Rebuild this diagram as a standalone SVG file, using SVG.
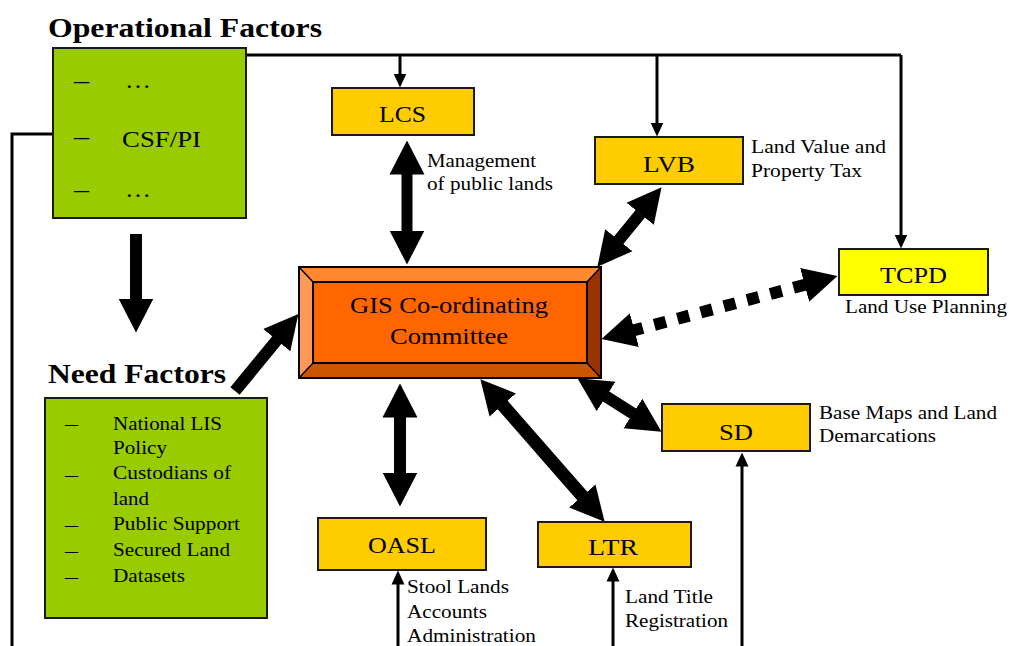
<svg xmlns="http://www.w3.org/2000/svg" width="1009" height="646" viewBox="0 0 1009 646">
<style>
text{font-family:"Liberation Serif","Times New Roman",serif;fill:#000}
.title{font-size:28px;font-weight:bold}
.bl{font-size:24px}
.lb{font-size:19px}
.it{font-size:19px}
.agency{fill:#FFCC00;stroke:#1a1a1a;stroke-width:2}
.green{fill:#99CC00;stroke:#1a1a1a;stroke-width:2}
.thin{fill:none;stroke:#000;stroke-width:3}
.thick{fill:none;stroke:#000;stroke-width:12}
</style>
<defs>
<marker id="big" markerUnits="userSpaceOnUse" viewBox="0 -18 34 36" markerWidth="34" markerHeight="36" refX="0.5" refY="0" orient="auto-start-reverse">
<path d="M0,-17.5 L34,0 L0,17.5 z" fill="#000"/>
</marker>
<marker id="small" markerUnits="userSpaceOnUse" viewBox="0 -7 14 14" markerWidth="14" markerHeight="14" refX="0.5" refY="0" orient="auto-start-reverse">
<path d="M0,-6.5 L14,0 L0,6.5 z" fill="#000"/>
</marker>
</defs>
<rect width="1009" height="646" fill="#fff"/>

<g id="connectors">
<path class="thin" d="M246,55 H901"/>
<path class="thin" d="M55,134 H12 V646"/>
<path class="thin" d="M400,55 V74" marker-end="url(#small)"/>
<path class="thin" d="M657,55 V123" marker-end="url(#small)"/>
<path class="thin" d="M901,55 V235" marker-end="url(#small)"/>
<path class="thin" d="M398,646 V584" marker-end="url(#small)"/>
<path class="thin" d="M613,646 V581" marker-end="url(#small)"/>
<path class="thin" d="M742,646 V466" marker-end="url(#small)"/>
<path class="thick" d="M136,234 V299" marker-end="url(#big)"/>
<path class="thick" d="M235,391 L277.1,339.8" marker-end="url(#big)"/>
<path class="thick" style="stroke-width:11" d="M407,174 V231" marker-start="url(#big)" marker-end="url(#big)"/>
<path class="thick" d="M640.5,213.4 L618.5,240.6" marker-start="url(#big)" marker-end="url(#big)"/>
<path class="thick" style="stroke-dasharray:12 12" d="M805.1,284.7 L633.9,330.3" marker-start="url(#big)" marker-end="url(#big)"/>
<path class="thick" d="M400,417 V473" marker-start="url(#big)" marker-end="url(#big)"/>
<path class="thick" style="stroke-width:13" d="M502.4,404.6 L582.6,496.4" marker-start="url(#big)" marker-end="url(#big)"/>
<path class="thick" d="M605.7,396.2 L633.3,413.8" marker-start="url(#big)" marker-end="url(#big)"/>
</g>

<g id="operational-factors">
<text class="title" x="48" y="37" textLength="274" lengthAdjust="spacingAndGlyphs">Operational Factors</text>
<rect class="green" x="53" y="48" width="193" height="170"/>
<text class="bl" x="74" y="88" textLength="15" lengthAdjust="spacingAndGlyphs">–</text>
<text class="bl" x="125" y="88" textLength="26" lengthAdjust="spacingAndGlyphs">…</text>
<text class="bl" x="74" y="144" textLength="15" lengthAdjust="spacingAndGlyphs">–</text>
<text class="bl" x="122" y="146.5" textLength="79" lengthAdjust="spacingAndGlyphs">CSF/PI</text>
<text class="bl" x="74" y="197" textLength="15" lengthAdjust="spacingAndGlyphs">–</text>
<text class="bl" x="125" y="197" textLength="26" lengthAdjust="spacingAndGlyphs">…</text>
</g>

<g id="need-factors">
<text class="title" x="48" y="383" textLength="178" lengthAdjust="spacingAndGlyphs">Need Factors</text>
<rect class="green" x="45" y="398" width="222" height="220"/>
<text class="it" x="65" y="430" textLength="13" lengthAdjust="spacingAndGlyphs">–</text>
<text class="it" x="113" y="430" textLength="109" lengthAdjust="spacingAndGlyphs">National LIS</text>
<text class="it" x="113" y="454" textLength="54" lengthAdjust="spacingAndGlyphs">Policy</text>
<text class="it" x="65" y="481" textLength="13" lengthAdjust="spacingAndGlyphs">–</text>
<text class="it" x="113" y="479" textLength="118" lengthAdjust="spacingAndGlyphs">Custodians of</text>
<text class="it" x="113" y="505" textLength="36" lengthAdjust="spacingAndGlyphs">land</text>
<text class="it" x="65" y="531" textLength="13" lengthAdjust="spacingAndGlyphs">–</text>
<text class="it" x="113" y="530" textLength="127" lengthAdjust="spacingAndGlyphs">Public Support</text>
<text class="it" x="65" y="557" textLength="13" lengthAdjust="spacingAndGlyphs">–</text>
<text class="it" x="113" y="556" textLength="117" lengthAdjust="spacingAndGlyphs">Secured Land</text>
<text class="it" x="65" y="583" textLength="13" lengthAdjust="spacingAndGlyphs">–</text>
<text class="it" x="113" y="582" textLength="72" lengthAdjust="spacingAndGlyphs">Datasets</text>
</g>

<g id="gis-committee">
<polygon points="299,267 601,267 587,282 313,282" fill="#FF8833"/>
<polygon points="299,267 313,282 313,363 299,378" fill="#FF9955"/>
<polygon points="601,267 601,378 587,363 587,282" fill="#993300"/>
<polygon points="299,378 313,363 587,363 601,378" fill="#CC5500"/>
<rect x="313" y="282" width="274" height="81" fill="#FF6600" stroke="#000" stroke-width="2"/>
<path d="M299,267 L313,282 M601,267 L587,282 M299,378 L313,363 M601,378 L587,363" stroke="#000" stroke-width="1.5"/>
<rect x="299" y="267" width="302" height="111" fill="none" stroke="#000" stroke-width="2"/>
<text class="bl" x="350" y="313" textLength="198" lengthAdjust="spacingAndGlyphs">GIS Co-ordinating</text>
<text class="bl" x="390" y="344" textLength="118" lengthAdjust="spacingAndGlyphs">Committee</text>
</g>

<g id="lcs">
<rect class="agency" x="332" y="88" width="142" height="47"/>
<text class="bl" x="379" y="122" textLength="47" lengthAdjust="spacingAndGlyphs">LCS</text>
<text class="lb" x="427" y="167" textLength="109" lengthAdjust="spacingAndGlyphs">Management</text>
<text class="lb" x="427" y="190" textLength="126" lengthAdjust="spacingAndGlyphs">of public lands</text>
</g>

<g id="lvb">
<rect class="agency" x="595" y="137" width="148" height="47"/>
<text class="bl" x="643" y="172" textLength="52" lengthAdjust="spacingAndGlyphs">LVB</text>
<text class="lb" x="751" y="153" textLength="135" lengthAdjust="spacingAndGlyphs">Land Value and</text>
<text class="lb" x="751" y="177" textLength="111" lengthAdjust="spacingAndGlyphs">Property Tax</text>
</g>

<g id="tcpd">
<rect x="839" y="249" width="149" height="46" fill="#FFFF00" stroke="#1a1a1a" stroke-width="2"/>
<text class="bl" x="880" y="283" textLength="67" lengthAdjust="spacingAndGlyphs">TCPD</text>
<text class="lb" x="845" y="313" textLength="162" lengthAdjust="spacingAndGlyphs">Land Use Planning</text>
</g>

<g id="sd">
<rect class="agency" x="662" y="404" width="148" height="47"/>
<text class="bl" x="719" y="440" textLength="34" lengthAdjust="spacingAndGlyphs">SD</text>
<text class="lb" x="819" y="419" textLength="178" lengthAdjust="spacingAndGlyphs">Base Maps and Land</text>
<text class="lb" x="819" y="442" textLength="117" lengthAdjust="spacingAndGlyphs">Demarcations</text>
</g>

<g id="oasl">
<rect class="agency" x="318" y="518" width="168" height="52"/>
<text class="bl" x="368" y="553" textLength="68" lengthAdjust="spacingAndGlyphs">OASL</text>
<text class="lb" x="407" y="593" textLength="102" lengthAdjust="spacingAndGlyphs">Stool Lands</text>
<text class="lb" x="407" y="618" textLength="80" lengthAdjust="spacingAndGlyphs">Accounts</text>
<text class="lb" x="407" y="642" textLength="129" lengthAdjust="spacingAndGlyphs">Administration</text>
</g>

<g id="ltr">
<rect class="agency" x="538" y="522" width="153" height="45"/>
<text class="bl" x="588" y="555" textLength="50" lengthAdjust="spacingAndGlyphs">LTR</text>
<text class="lb" x="625" y="603" textLength="88" lengthAdjust="spacingAndGlyphs">Land Title</text>
<text class="lb" x="625" y="627" textLength="103" lengthAdjust="spacingAndGlyphs">Registration</text>
</g>
</svg>
